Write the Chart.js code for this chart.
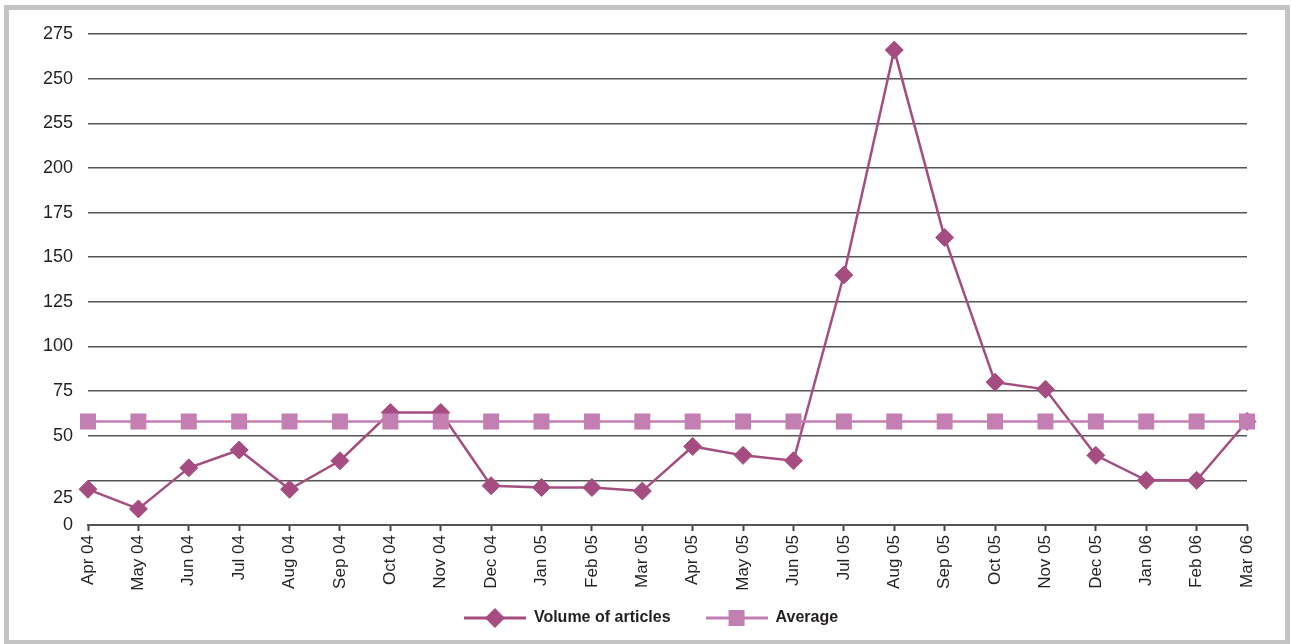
<!DOCTYPE html>
<html>
<head>
<meta charset="utf-8">
<title>Volume of articles</title>
<script src="https://cdn.jsdelivr.net/npm/chart.js@4.4.1/dist/chart.umd.min.js"></script>
<style>
  html, body { margin: 0; padding: 0; background: #ffffff; }
  #wrap { position: absolute; left: 0; top: 0; width: 1291px; height: 644px; }
  #frame { position: absolute; left: 4px; top: 5px; width: 1276px; height: 630px;
           border: 5px solid #c4c4c4; pointer-events: none; }
</style>
</head>
<body>
<div id="wrap"><canvas id="chart"></canvas></div>
<div id="frame"></div>
<script>
// Monthly categories
const months = ['Apr 04', 'May 04', 'Jun 04', 'Jul 04', 'Aug 04', 'Sep 04', 'Oct 04', 'Nov 04',
                'Dec 04', 'Jan 05', 'Feb 05', 'Mar 05', 'Apr 05', 'May 05', 'Jun 05', 'Jul 05',
                'Aug 05', 'Sep 05', 'Oct 05', 'Nov 05', 'Dec 05', 'Jan 06', 'Feb 06', 'Mar 06'];

// Number of articles per month
const volume = [20, 9, 32, 42, 20, 36, 63, 63, 22, 21, 21, 19, 44, 39, 36, 140,
                266, 161, 80, 76, 39, 25, 25, 58];

// Average line (same value every month)
const average = [58, 58, 58, 58, 58, 58, 58, 58, 58, 58, 58, 58, 58, 58, 58, 58,
                 58, 58, 58, 58, 58, 58, 58, 58];

// Value-axis ticks and the text printed beside them
const yTickValues = [0, 15, 25, 50, 75, 100, 125, 150, 175, 200, 225, 250, 275];
const yTickLabels = ['0', '25', '', '50', '75', '100', '125', '150', '175', '200', '255', '250', '275'];

const seriesNames = ['Volume of articles', 'Average'];

const VOLUME_COLOR = '#a54d80';
const AVERAGE_COLOR = '#c47fb2';
const TEXT_COLOR = '#231f20';
const FONT = "'Liberation Sans', Arial, Helvetica, sans-serif";

// Legend swatch: a short line with the series marker in the middle
function makeLegendIcon(color, shape) {
  const c = document.createElement('canvas');
  c.width = 62; c.height = 22;
  const g = c.getContext('2d');
  g.strokeStyle = color;
  g.lineWidth = 3;
  g.beginPath();
  g.moveTo(0, 11); g.lineTo(62, 11);
  g.stroke();
  g.fillStyle = color;
  g.beginPath();
  if (shape === 'diamond') {
    g.moveTo(31, 1); g.lineTo(41, 11); g.lineTo(31, 21); g.lineTo(21, 11);
  } else {
    g.rect(23, 3, 16, 16);
  }
  g.closePath();
  g.fill();
  return c;
}
const legendIcons = [makeLegendIcon(VOLUME_COLOR, 'diamond'), makeLegendIcon(AVERAGE_COLOR, 'square')];

// Let the rotated month labels run down past the axis box instead of being cut
const uncutTickLabels = {
  id: 'uncutTickLabels',
  afterLayout(chart) {
    chart.scales.x.bottom = chart.height;
  }
};

new Chart(document.getElementById('chart'), {
  type: 'line',
  data: {
    labels: months,
    datasets: [
      {
        label: seriesNames[0],
        data: volume,
        order: 1,
        borderColor: VOLUME_COLOR,
        backgroundColor: VOLUME_COLOR,
        borderWidth: 2.5,
        tension: 0,
        pointStyle: 'rectRot',
        pointRadius: 9,
        pointHoverRadius: 9,
        pointBorderWidth: 1,
        pointBorderColor: VOLUME_COLOR,
        pointBackgroundColor: VOLUME_COLOR
      },
      {
        label: seriesNames[1],
        data: average,
        order: 0,
        borderColor: AVERAGE_COLOR,
        backgroundColor: AVERAGE_COLOR,
        borderWidth: 2.5,
        tension: 0,
        pointStyle: 'rect',
        pointRadius: 11.3,
        pointHoverRadius: 11.3,
        pointBorderWidth: 0,
        pointBackgroundColor: AVERAGE_COLOR
      }
    ]
  },
  plugins: [uncutTickLabels],
  options: {
    responsive: true,
    maintainAspectRatio: false,
    animation: false,
    layout: { padding: { left: 11, right: 0, top: 34, bottom: 8 } },
    plugins: {
      tooltip: { enabled: false },
      legend: {
        position: 'bottom',
        align: 'center',
        labels: {
          usePointStyle: true,
          pointStyleWidth: 62,
          padding: 35,
          color: TEXT_COLOR,
          font: { family: FONT, size: 16, weight: 'bold' },
          generateLabels: chart => chart.data.datasets.map((ds, i) => ({
            text: ds.label,
            datasetIndex: i,
            pointStyle: legendIcons[i],
            fontColor: TEXT_COLOR,
            fillStyle: 'rgba(0,0,0,0)',
            strokeStyle: 'rgba(0,0,0,0)',
            lineWidth: 0,
            hidden: false
          }))
        }
      }
    },
    scales: {
      x: {
        type: 'category',
        offset: false,
        grid: {
          display: true,
          drawOnChartArea: false,
          drawTicks: true,
          tickLength: 6,
          tickWidth: 2,
          tickColor: '#444444'
        },
        border: { display: true, color: '#555555', width: 2 },
        ticks: {
          autoSkip: false,
          minRotation: 90,
          maxRotation: 90,
          padding: 4,
          color: TEXT_COLOR,
          font: { family: FONT, size: 17 }
        },
        afterFit: scale => {
          scale.height = 50;
          scale.paddingRight = 44;
        }
      },
      y: {
        type: 'linear',
        min: 0,
        max: 275,
        afterBuildTicks: scale => {
          scale.ticks = yTickValues.map(v => ({ value: v }));
        },
        afterFit: scale => { scale.width = 77; },
        border: { display: false },
        grid: {
          drawTicks: false,
          lineWidth: 1.5,
          color: ctx => (ctx.tick && ctx.tick.value >= 25 ? '#555555' : 'rgba(0,0,0,0)')
        },
        ticks: {
          padding: 15,
          color: TEXT_COLOR,
          font: { family: FONT, size: 18 },
          callback: (value, index) => yTickLabels[index]
        }
      }
    }
  }
});
</script>
</body>
</html>
